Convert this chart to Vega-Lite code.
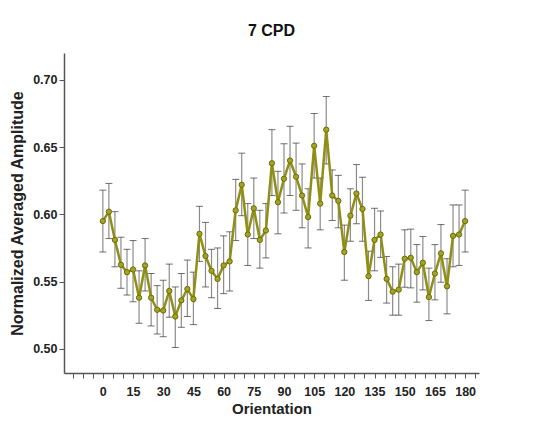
{
  "$schema": "https://vega.github.io/schema/vega-lite/v6.json",
  "width": 415,
  "height": 320,
  "autosize": {"type": "none"},
  "padding": {"left": 64, "top": 53, "right": 68, "bottom": 51},
  "background": "white",
  "config": {"view": {"stroke": null}, "font": "Liberation Sans"},
  "title": {"text": "7 CPD", "fontSize": 16, "font": "Liberation Sans", "fontWeight": "bold", "color": "#111111", "offset": 14, "anchor": "middle"},
  "data": {"values": [
    {"o": 0, "m": 0.595, "lo": 0.572, "hi": 0.618},
    {"o": 3, "m": 0.602, "lo": 0.582, "hi": 0.623},
    {"o": 6, "m": 0.581, "lo": 0.561, "hi": 0.602},
    {"o": 9, "m": 0.5625, "lo": 0.545, "hi": 0.583},
    {"o": 12, "m": 0.557, "lo": 0.540, "hi": 0.574},
    {"o": 15, "m": 0.559, "lo": 0.535, "hi": 0.5805},
    {"o": 18, "m": 0.538, "lo": 0.519, "hi": 0.558},
    {"o": 21, "m": 0.562, "lo": 0.543, "hi": 0.582},
    {"o": 24, "m": 0.538, "lo": 0.517, "hi": 0.556},
    {"o": 27, "m": 0.529, "lo": 0.511, "hi": 0.547},
    {"o": 30, "m": 0.5285, "lo": 0.509, "hi": 0.551},
    {"o": 33, "m": 0.543, "lo": 0.5235, "hi": 0.563},
    {"o": 36, "m": 0.524, "lo": 0.501, "hi": 0.546},
    {"o": 39, "m": 0.536, "lo": 0.516, "hi": 0.556},
    {"o": 42, "m": 0.5445, "lo": 0.524, "hi": 0.566},
    {"o": 45, "m": 0.537, "lo": 0.518, "hi": 0.557},
    {"o": 48, "m": 0.5855, "lo": 0.565, "hi": 0.606},
    {"o": 51, "m": 0.569, "lo": 0.546, "hi": 0.594},
    {"o": 54, "m": 0.558, "lo": 0.538, "hi": 0.574},
    {"o": 57, "m": 0.552, "lo": 0.530, "hi": 0.575},
    {"o": 60, "m": 0.562, "lo": 0.541, "hi": 0.584},
    {"o": 63, "m": 0.565, "lo": 0.543, "hi": 0.587},
    {"o": 66, "m": 0.603, "lo": 0.5805, "hi": 0.626},
    {"o": 69, "m": 0.622, "lo": 0.599, "hi": 0.6455},
    {"o": 72, "m": 0.585, "lo": 0.562, "hi": 0.608},
    {"o": 75, "m": 0.6045, "lo": 0.582, "hi": 0.627},
    {"o": 78, "m": 0.581, "lo": 0.560, "hi": 0.603},
    {"o": 81, "m": 0.588, "lo": 0.5676, "hi": 0.608},
    {"o": 84, "m": 0.638, "lo": 0.614, "hi": 0.663},
    {"o": 87, "m": 0.609, "lo": 0.5855, "hi": 0.632},
    {"o": 90, "m": 0.6265, "lo": 0.601, "hi": 0.6525},
    {"o": 93, "m": 0.640, "lo": 0.614, "hi": 0.6655},
    {"o": 96, "m": 0.628, "lo": 0.603, "hi": 0.653},
    {"o": 99, "m": 0.614, "lo": 0.590, "hi": 0.6375},
    {"o": 102, "m": 0.598, "lo": 0.575, "hi": 0.619},
    {"o": 105, "m": 0.651, "lo": 0.627, "hi": 0.675},
    {"o": 108, "m": 0.608, "lo": 0.5885, "hi": 0.627},
    {"o": 111, "m": 0.663, "lo": 0.6375, "hi": 0.6876},
    {"o": 114, "m": 0.614, "lo": 0.5954, "hi": 0.633},
    {"o": 117, "m": 0.610, "lo": 0.590, "hi": 0.629},
    {"o": 120, "m": 0.572, "lo": 0.551, "hi": 0.592},
    {"o": 123, "m": 0.599, "lo": 0.580, "hi": 0.619},
    {"o": 126, "m": 0.6155, "lo": 0.593, "hi": 0.637},
    {"o": 129, "m": 0.604, "lo": 0.580, "hi": 0.6276},
    {"o": 132, "m": 0.554, "lo": 0.536, "hi": 0.5726},
    {"o": 135, "m": 0.581, "lo": 0.558, "hi": 0.6045},
    {"o": 138, "m": 0.585, "lo": 0.568, "hi": 0.6025},
    {"o": 141, "m": 0.552, "lo": 0.534, "hi": 0.5686},
    {"o": 144, "m": 0.5425, "lo": 0.525, "hi": 0.561},
    {"o": 147, "m": 0.544, "lo": 0.525, "hi": 0.563},
    {"o": 150, "m": 0.567, "lo": 0.5458, "hi": 0.5885},
    {"o": 153, "m": 0.5677, "lo": 0.5453, "hi": 0.589},
    {"o": 156, "m": 0.557, "lo": 0.5347, "hi": 0.5775},
    {"o": 159, "m": 0.564, "lo": 0.5438, "hi": 0.5835},
    {"o": 162, "m": 0.5385, "lo": 0.521, "hi": 0.560},
    {"o": 165, "m": 0.556, "lo": 0.5364, "hi": 0.5775},
    {"o": 168, "m": 0.571, "lo": 0.5495, "hi": 0.5924},
    {"o": 171, "m": 0.5465, "lo": 0.526, "hi": 0.567},
    {"o": 174, "m": 0.584, "lo": 0.561, "hi": 0.607},
    {"o": 177, "m": 0.585, "lo": 0.562, "hi": 0.607},
    {"o": 180, "m": 0.595, "lo": 0.572, "hi": 0.618}
  ]},
  "encoding": {
    "x": {
      "field": "o", "type": "quantitative",
      "scale": {"domain": [-19.3, 186.9], "nice": false, "zero": false},
      "axis": {
        "title": "Orientation",
        "titleFont": "Liberation Sans", "titleFontSize": 15, "titleFontWeight": "bold", "titleColor": "#222222", "titlePadding": 4,
        "values": [-15, -10, -5, 0, 5, 10, 15, 20, 25, 30, 35, 40, 45, 50, 55, 60, 65, 70, 75, 80, 85, 90, 95, 100, 105, 110, 115, 120, 125, 130, 135, 140, 145, 150, 155, 160, 165, 170, 175, 180, 185],
        "labelExpr": "(datum.value >= 0 && datum.value <= 180 && datum.value % 15 == 0) ? datum.value : ''",
        "labelFont": "Liberation Sans", "labelFontSize": 12.5, "labelFontWeight": "bold", "labelColor": "#222222", "labelPadding": 7,
        "labelFlush": false, "labelOverlap": false,
        "grid": false, "domainColor": "#555555", "domainWidth": 1.5, "tickColor": "#555555", "tickSize": 5, "tickWidth": 1
      }
    }
  },
  "layer": [
    {
      "mark": {"type": "rule", "color": "#8c8c8c", "strokeWidth": 1.2},
      "encoding": {
        "y": {
          "field": "lo", "type": "quantitative", "title": "Normalized Averaged Amplitude",
          "scale": {"domain": [0.482, 0.72], "nice": false, "zero": false},
          "axis": {
            "titleFont": "Liberation Sans", "titleFontSize": 16, "titleFontWeight": "bold", "titleColor": "#222222", "titlePadding": 7,
            "values": [0.5, 0.525, 0.55, 0.575, 0.6, 0.625, 0.65, 0.675, 0.7],
            "labelExpr": "abs(datum.value * 20 - round(datum.value * 20)) < 0.001 ? format(datum.value, '.2f') : ''",
            "labelFont": "Liberation Sans", "labelFontSize": 12.5, "labelFontWeight": "bold", "labelColor": "#222222", "labelPadding": 2,
            "grid": false, "domainColor": "#555555", "domainWidth": 1.5, "tickColor": "#555555", "tickSize": 5, "tickWidth": 1
          }
        },
        "y2": {"field": "hi"}
      }
    },
    {
      "mark": {"type": "tick", "orient": "horizontal", "color": "#333333", "size": 7, "thickness": 1},
      "encoding": {"y": {"field": "lo", "type": "quantitative", "title": "Normalized Averaged Amplitude"}}
    },
    {
      "mark": {"type": "tick", "orient": "horizontal", "color": "#333333", "size": 7, "thickness": 1},
      "encoding": {"y": {"field": "hi", "type": "quantitative", "title": "Normalized Averaged Amplitude"}}
    },
    {
      "mark": {"type": "line", "color": "#8f8f14", "strokeWidth": 2.5},
      "encoding": {"y": {"field": "m", "type": "quantitative", "title": "Normalized Averaged Amplitude"}}
    },
    {
      "mark": {"type": "point", "filled": true, "fill": "#a3a325", "stroke": "#6b6b08", "strokeWidth": 1, "size": 28, "opacity": 1},
      "encoding": {"y": {"field": "m", "type": "quantitative", "title": "Normalized Averaged Amplitude"}}
    }
  ]
}
